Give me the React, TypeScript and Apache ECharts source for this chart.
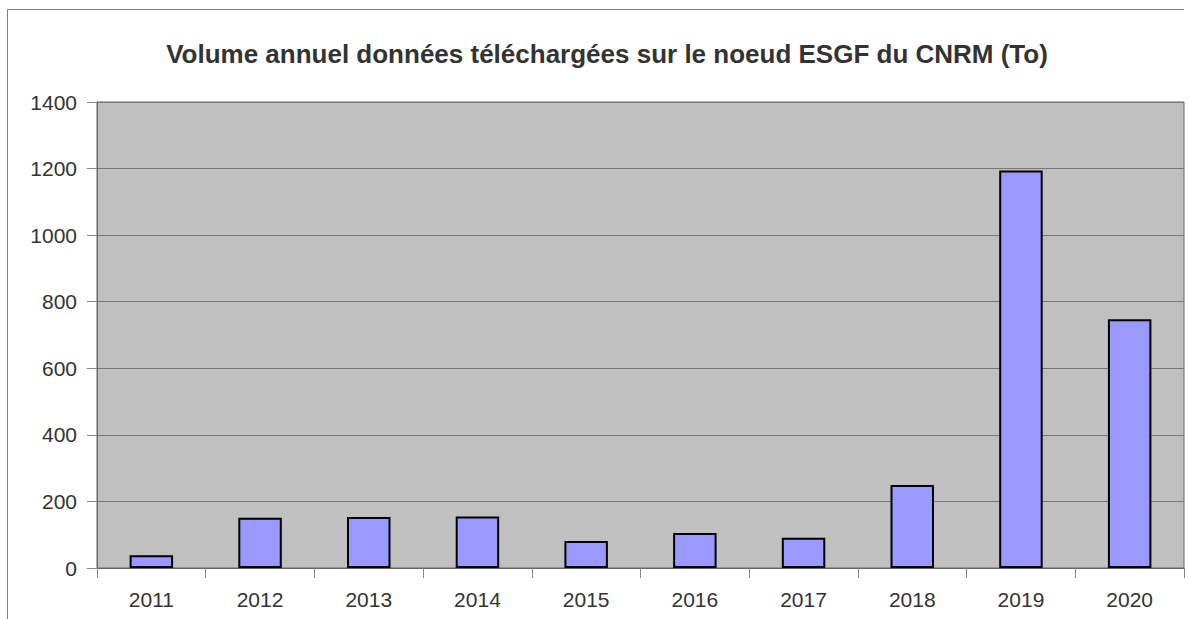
import React, { useEffect, useRef } from "react";
import * as echarts from "echarts";

const TITLE = "Volume annuel données téléchargées sur le noeud ESGF du CNRM (To)";
const YEARS = ["2011", "2012", "2013", "2014", "2015", "2016", "2017", "2018", "2019", "2020"];
const VOLUMES = [38, 151, 153, 155, 81, 105, 91, 249, 1194, 747];
const Y_MIN = 0;
const Y_MAX = 1400;
const Y_STEP = 200;

const FONT = "'Liberation Sans', Arial, sans-serif";

export default function App() {
  const ref = useRef<HTMLDivElement>(null);

  useEffect(() => {
    if (!ref.current) return;
    const chart = echarts.init(ref.current, undefined, { renderer: "svg" });
    chart.setOption({
      animation: false,
      backgroundColor: "#ffffff",
      title: {
        text: TITLE,
        left: 607,
        top: 41,
        padding: 0,
        textAlign: "center",
        textStyle: {
          fontFamily: FONT,
          fontSize: 26,
          fontWeight: "bold",
          color: "#333333",
        },
      },
      graphic: [
        {
          type: "polyline",
          shape: { points: [[7.5, 619], [7.5, 9.5], [1184, 9.5]] },
          style: { stroke: "#808080", lineWidth: 1, fill: null },
          silent: true,
        },
      ],
      grid: {
        left: 97,
        top: 102,
        right: 6,
        bottom: 51,
        show: true,
        backgroundColor: "#C0C0C0",
        borderColor: "#666666",
        borderWidth: 1,
        containLabel: false,
      },
      xAxis: {
        type: "category",
        data: YEARS,
        boundaryGap: true,
        axisLine: { show: true, lineStyle: { color: "#666666", width: 1 } },
        axisTick: { show: true, length: 10, lineStyle: { color: "#888888" } },
        axisLabel: {
          margin: 21,
          fontFamily: FONT,
          fontSize: 21,
          color: "#333333",
        },
        splitLine: { show: false },
      },
      yAxis: {
        type: "value",
        min: Y_MIN,
        max: Y_MAX,
        interval: Y_STEP,
        axisLine: { show: true, lineStyle: { color: "#666666", width: 1 } },
        axisTick: { show: true, length: 10, lineStyle: { color: "#888888" } },
        axisLabel: {
          margin: 20,
          fontFamily: FONT,
          fontSize: 21,
          color: "#333333",
          formatter: (v: number) => String(v),
        },
        splitLine: { show: true, lineStyle: { color: "#777777", width: 1 } },
      },
      series: [
        {
          type: "bar",
          data: VOLUMES,
          barWidth: "40%",
          itemStyle: {
            color: "#9999FF",
            borderColor: "#000000",
            borderWidth: 2,
          },
        },
      ],
    });
    return () => chart.dispose();
  }, []);

  return (
    <div
      ref={ref}
      style={{ position: "fixed", left: 0, top: 0, width: 1190, height: 619 }}
    />
  );
}
